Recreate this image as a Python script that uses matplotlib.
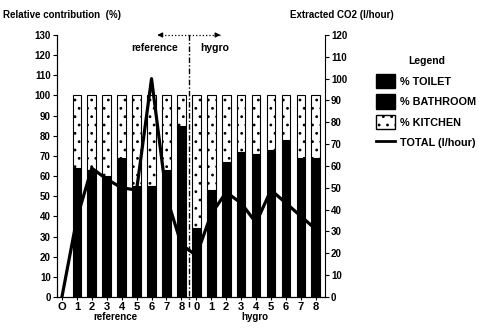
import matplotlib.pyplot as plt
import numpy as np
from matplotlib.patches import Patch
from matplotlib.lines import Line2D

plt.rcParams['font.family'] = ['Liberation Sans', 'DejaVu Sans']
plt.rcParams['font.weight'] = 'bold'
plt.rcParams['hatch.linewidth'] = 0.8

# x categories: position 0 ("O") has no bar
tick_labels = ['O', '1', '2', '3', '4', '5', '6', '7', '8',
               '0', '1', '2', '3', '4', '5', '6', '7', '8']
# relative contributions (%) for positions 1..17 (toilet and bathroom are both black)
toilet = np.array([30, 28, 27, 33, 24, 25, 29, 41, 15, 24, 31, 34, 33, 35, 37, 32, 32])
bathroom = np.array([34, 35, 33, 36, 31, 30, 34, 44, 19, 29, 36, 38, 38, 38, 41, 37, 37])
kitchen = 100 - toilet - bathroom
# extracted CO2 total (l/hour) for positions 0..17
total = np.array([0, 36, 59, 54, 50, 49, 100, 46, 24, 19, 38, 48, 43, 34, 49, 43, 37, 31])

x_all = np.arange(len(tick_labels))
x_bar = x_all[1:]

fig = plt.figure(figsize=(4.79, 3.30), dpi=100)
ax = fig.add_axes([0.119, 0.1, 0.559, 0.794])
ax2 = ax.twinx()

w = 0.58
ax.bar(x_bar, toilet, w, color='black', edgecolor='black', lw=0.8, zorder=2)
ax.bar(x_bar, bathroom, w, bottom=toilet, color='black', edgecolor='black', lw=0.8, zorder=2)
ax.bar(x_bar, kitchen, w, bottom=toilet + bathroom, color='white', edgecolor='black',
       hatch='..', lw=0.8, zorder=2)

ax2.plot(x_all, total, color='black', lw=2.3, zorder=5)

ax.set_xlim(-0.33, 17.6)
ax.set_ylim(0, 130)
ax2.set_ylim(0, 120)
ax.set_yticks(np.arange(0, 131, 10))
ax2.set_yticks(np.arange(0, 121, 10))
ax.set_xticks(x_all)
ax.set_xticklabels(tick_labels, fontsize=8)
ax.tick_params(axis='y', labelsize=7, length=3, width=0.8, pad=1.5)
ax2.tick_params(axis='y', labelsize=7, length=3, width=0.8, pad=1.5)
ax.tick_params(axis='x', length=2, width=0.8, pad=1.5)
for a in (ax, ax2):
    a.spines['top'].set_visible(False)
    for s in a.spines.values():
        s.set_linewidth(0.8)
ax.spines['right'].set_visible(False)
ax2.set_zorder(ax.get_zorder() + 1)
ax2.patch.set_visible(False)

# divider between reference and hygro
ax.plot([8.5, 8.5], [-5, 131], color='black', lw=1, ls=(0, (4, 1.5, 1, 1.5)),
        clip_on=False, zorder=6)
ax.plot([6.4, 8.5], [130, 130], color='black', lw=0.9, ls=':', clip_on=False)
ax.plot([8.5, 10.6], [130, 130], color='black', lw=0.9, ls=':', clip_on=False)
ax.annotate('', xy=(6.2, 130), xytext=(6.9, 130),
            arrowprops=dict(arrowstyle='-|>', color='black', lw=0.9,
                            mutation_scale=7), annotation_clip=False)
ax.annotate('', xy=(10.8, 130), xytext=(10.1, 130),
            arrowprops=dict(arrowstyle='-|>', color='black', lw=0.9,
                            mutation_scale=7), annotation_clip=False)
ax.text(6.2, 123.5, 'reference', ha='center', va='center', fontsize=7.5)
ax.text(10.2, 123.5, 'hygro', ha='center', va='center', fontsize=7.5)

fig.text(0.24, 0.04, 'reference', ha='center', va='center', fontsize=7)
fig.text(0.532, 0.04, 'hygro', ha='center', va='center', fontsize=7)

fig.text(0.006, 0.955, 'Relative contribution  (%)', ha='left', va='center', fontsize=7)
fig.text(0.605, 0.955, 'Extracted CO2 (l/hour)', ha='left', va='center', fontsize=7)

handles = [Patch(facecolor='black', edgecolor='black'),
           Patch(facecolor='black', edgecolor='black'),
           Patch(facecolor='white', edgecolor='black', hatch='..'),
           Line2D([0], [0], color='black', lw=2)]
labels = ['% TOILET', '% BATHROOM', '% KITCHEN', 'TOTAL (l/hour)']
fig.text(0.891, 0.815, 'Legend', ha='center', va='center', fontsize=7.5)
leg = fig.legend(handles, labels, loc='upper left', bbox_to_anchor=(0.783, 0.78),
                 frameon=False, fontsize=7.8,
                 handlelength=1.75, handleheight=1.7, labelspacing=0.55,
                 handletextpad=0.45, borderaxespad=0, borderpad=0.1)

fig.savefig('out.png', dpi=100)
